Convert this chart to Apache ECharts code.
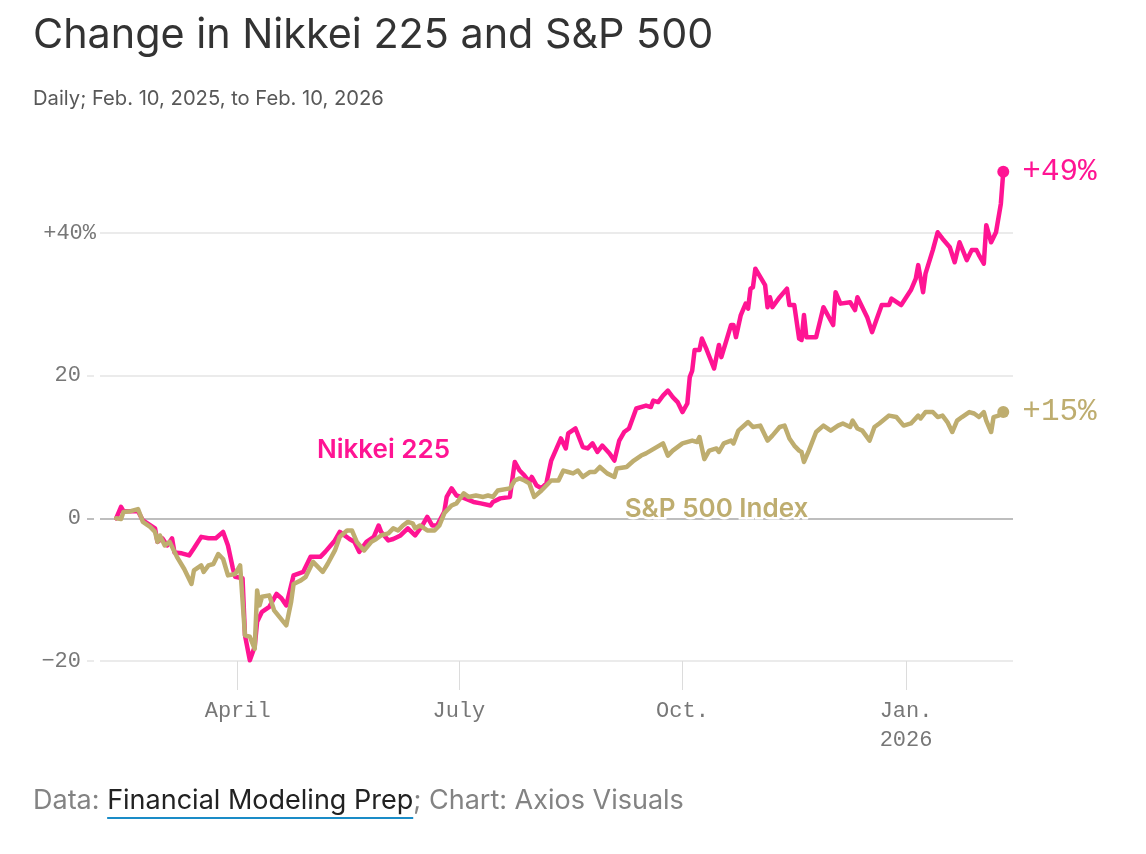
<!DOCTYPE html>
<html><head><meta charset="utf-8">
<script src="https://cdn.jsdelivr.net/npm/echarts@6/dist/echarts.min.js"></script>
<style>html,body{margin:0;padding:0;background:#fff}#c{width:1146px;height:854px}</style>
</head><body><div id="c"></div>
<script>
const nikkeiDates = ['2025-02-10','2025-02-12','2025-02-13','2025-02-19','2025-02-21','2025-02-26','2025-02-27','2025-03-01','2025-03-03','2025-03-05','2025-03-06','2025-03-09','2025-03-12','2025-03-14','2025-03-17','2025-03-20','2025-03-23','2025-03-26','2025-03-28','2025-03-30','2025-03-31','2025-04-03','2025-04-04','2025-04-06','2025-04-08','2025-04-09','2025-04-11','2025-04-14','2025-04-17','2025-04-19','2025-04-21','2025-04-24','2025-04-28','2025-05-01','2025-05-05','2025-05-07','2025-05-11','2025-05-13','2025-05-17','2025-05-19','2025-05-21','2025-05-24','2025-05-27','2025-05-29','2025-05-30','2025-06-02','2025-06-04','2025-06-07','2025-06-10','2025-06-13','2025-06-16','2025-06-18','2025-06-20','2025-06-22','2025-06-25','2025-06-26','2025-06-28','2025-06-30','2025-07-02','2025-07-07','2025-07-10','2025-07-14','2025-07-15','2025-07-18','2025-07-22','2025-07-24','2025-07-26','2025-07-28','2025-07-30','2025-07-31','2025-08-02','2025-08-04','2025-08-06','2025-08-08','2025-08-12','2025-08-14','2025-08-15','2025-08-18','2025-08-21','2025-08-23','2025-08-25','2025-08-27','2025-08-29','2025-09-01','2025-09-03','2025-09-05','2025-09-07','2025-09-09','2025-09-12','2025-09-16','2025-09-18','2025-09-19','2025-09-21','2025-09-23','2025-09-25','2025-09-27','2025-09-29','2025-10-01','2025-10-03','2025-10-04','2025-10-05','2025-10-06','2025-10-08','2025-10-09','2025-10-11','2025-10-14','2025-10-16','2025-10-17','2025-10-21','2025-10-22','2025-10-23','2025-10-25','2025-10-27','2025-10-28','2025-10-29','2025-10-30','2025-10-31','2025-11-04','2025-11-05','2025-11-06','2025-11-07','2025-11-10','2025-11-13','2025-11-14','2025-11-16','2025-11-18','2025-11-19','2025-11-20','2025-11-21','2025-11-25','2025-11-27','2025-11-28','2025-12-02','2025-12-03','2025-12-05','2025-12-09','2025-12-11','2025-12-12','2025-12-14','2025-12-16','2025-12-18','2025-12-20','2025-12-22','2025-12-25','2025-12-26','2025-12-30','2026-01-03','2026-01-05','2026-01-06','2026-01-08','2026-01-09','2026-01-12','2026-01-14','2026-01-16','2026-01-19','2026-01-21','2026-01-23','2026-01-26','2026-01-28','2026-01-30','2026-01-31','2026-02-02','2026-02-03','2026-02-05','2026-02-07','2026-02-09','2026-02-10'];
const nikkeiValues = [0,1.6,1.0,1.0,-0.3,-1.4,-3.3,-2.8,-3.8,-2.8,-4.8,-4.9,-5.2,-4.2,-2.6,-2.8,-2.8,-1.9,-3.8,-7.0,-8.2,-8.4,-16.4,-19.9,-18.0,-14.5,-13.1,-12.4,-10.6,-11.2,-12.2,-8.0,-7.5,-5.4,-5.4,-4.7,-3.1,-1.9,-2.9,-3.3,-4.7,-3.3,-2.6,-1.0,-1.9,-3.1,-2.9,-2.4,-1.4,-2.4,-1.0,0.2,-1.0,-1.0,0.9,3.0,4.2,3.2,3.0,2.3,2.1,1.8,2.3,2.8,3.0,7.9,6.7,6.0,5.1,5.8,4.6,4.2,4.9,8.1,11.2,9.8,11.9,12.6,10.0,9.8,10.5,9.3,10.2,9.1,8.1,10.9,12.1,12.6,15.4,15.8,15.6,16.5,16.3,17.2,17.9,17.0,16.3,14.9,16.1,19.8,20.7,23.6,23.6,25.2,23.6,21.0,24.3,22.6,27.1,27.1,25.4,28.5,30.1,29.4,32.2,32.4,35.0,32.7,29.6,31.0,29.6,31.0,32.2,29.9,29.9,25.2,25.0,28.5,25.4,25.4,28.2,29.6,27.1,31.7,30.1,30.3,29.2,31.0,29.6,28.2,26.1,28.0,29.9,29.9,30.8,29.9,32.0,33.6,35.5,31.7,34.3,37.6,40.1,39.2,38.0,35.9,38.7,36.2,37.6,37.6,36.9,35.7,41.1,38.7,40.1,44.1,48.6];

const spDates = ['2025-02-10','2025-02-12','2025-02-13','2025-02-16','2025-02-19','2025-02-21','2025-02-24','2025-02-26','2025-02-27','2025-02-28','2025-03-02','2025-03-04','2025-03-06','2025-03-07','2025-03-10','2025-03-13','2025-03-14','2025-03-17','2025-03-18','2025-03-20','2025-03-22','2025-03-24','2025-03-26','2025-03-28','2025-03-31','2025-04-02','2025-04-04','2025-04-06','2025-04-08','2025-04-09','2025-04-10','2025-04-11','2025-04-14','2025-04-16','2025-04-21','2025-04-23','2025-04-24','2025-04-27','2025-04-29','2025-05-02','2025-05-04','2025-05-06','2025-05-08','2025-05-11','2025-05-13','2025-05-16','2025-05-18','2025-05-20','2025-05-23','2025-05-26','2025-05-28','2025-05-30','2025-06-02','2025-06-04','2025-06-06','2025-06-08','2025-06-10','2025-06-12','2025-06-13','2025-06-15','2025-06-18','2025-06-21','2025-06-23','2025-06-25','2025-06-28','2025-06-30','2025-07-03','2025-07-05','2025-07-08','2025-07-11','2025-07-13','2025-07-15','2025-07-17','2025-07-22','2025-07-24','2025-07-26','2025-07-28','2025-07-30','2025-08-01','2025-08-04','2025-08-06','2025-08-08','2025-08-11','2025-08-13','2025-08-15','2025-08-17','2025-08-19','2025-08-21','2025-08-24','2025-08-26','2025-08-28','2025-08-31','2025-09-03','2025-09-04','2025-09-08','2025-09-11','2025-09-14','2025-09-16','2025-09-23','2025-09-25','2025-09-27','2025-10-01','2025-10-05','2025-10-07','2025-10-08','2025-10-10','2025-10-12','2025-10-15','2025-10-16','2025-10-18','2025-10-21','2025-10-22','2025-10-24','2025-10-28','2025-10-30','2025-11-02','2025-11-03','2025-11-05','2025-11-07','2025-11-10','2025-11-12','2025-11-14','2025-11-16','2025-11-18','2025-11-19','2025-11-20','2025-11-22','2025-11-25','2025-11-28','2025-12-01','2025-12-04','2025-12-06','2025-12-09','2025-12-10','2025-12-12','2025-12-14','2025-12-17','2025-12-19','2025-12-21','2025-12-25','2025-12-28','2025-12-31','2026-01-03','2026-01-06','2026-01-07','2026-01-09','2026-01-12','2026-01-14','2026-01-16','2026-01-18','2026-01-20','2026-01-22','2026-01-24','2026-01-27','2026-01-29','2026-01-31','2026-02-02','2026-02-03','2026-02-05','2026-02-06','2026-02-08','2026-02-10'];
const spValues = [0,-0.1,0.9,1.0,1.3,-0.5,-1.2,-1.9,-3.3,-2.4,-3.8,-3.3,-4.7,-5.4,-7.1,-9.2,-7.3,-6.6,-7.5,-6.6,-6.4,-5.0,-5.7,-8.0,-7.8,-6.6,-16.4,-16.6,-18.3,-10.1,-12.2,-11.0,-10.8,-12.9,-15.0,-11.7,-9.2,-8.7,-8.2,-6.1,-6.8,-7.5,-6.4,-4.5,-2.6,-1.7,-1.7,-3.3,-4.5,-3.3,-2.9,-2.4,-2.1,-1.4,-1.7,-1.0,-0.5,-0.7,-1.4,-1.0,-1.7,-1.7,-1.0,0.7,1.8,2.1,3.5,3.0,3.2,3.0,3.2,3.0,3.9,4.2,5.3,5.6,5.3,4.9,3.0,3.9,4.6,5.3,5.3,6.7,6.5,6.3,6.7,5.8,6.5,6.5,7.2,6.3,5.8,7.0,7.2,8.1,8.8,9.1,10.5,8.8,9.5,10.5,10.9,10.7,11.4,8.3,9.5,9.8,9.3,10.5,10.9,10.5,12.3,13.5,12.8,13.0,12.3,10.9,11.6,12.8,13.0,11.2,10.2,9.5,9.3,7.9,9.5,12.1,13.0,12.3,13.0,13.3,12.8,13.7,12.6,12.3,10.9,12.8,13.3,14.4,14.2,13.0,13.3,14.4,14.0,14.9,14.9,14.2,14.4,13.5,12.1,13.7,14.2,14.9,14.7,14.2,14.9,13.7,12.1,14.2,14.4,14.9];

const seriesNames = ['Nikkei 225', 'S&P 500 Index'];
const xTickDates = ['2025-04-01','2025-07-01','2025-10-01','2026-01-01'];
const xTickLabels = ['April','July','Oct.','Jan.\n2026'];
const yMin = -20, yMax = 40, yStep = 20;
const xStart = '2025-01-29', xEnd = '2026-02-14';

const PINK = '#ff1493', TAN = '#bead6f';
const toTs = s => { const p = s.split('-').map(Number); return Date.UTC(p[0], p[1]-1, p[2]); };
const pairs = (d, v) => d.map((s, i) => [toTs(s), v[i]]);
const nikkeiData = pairs(nikkeiDates, nikkeiValues);
const spData = pairs(spDates, spValues);
const xTickTs = xTickDates.map(toTs);
const MONO = '"Liberation Mono", "DejaVu Sans Mono", monospace';
const SANS = 'Inter, Roboto, "Noto Sans", sans-serif';

const FOOT = 27;
const ctx = document.createElement('canvas').getContext('2d');
ctx.font = FOOT + 'px Inter';
const wData = ctx.measureText('Data: ').width;
const wLink = ctx.measureText('Financial Modeling Prep').width;

const endDot = n => (v, p) => p.dataIndex === n - 1 ? 12 : 0;
const chart = echarts.init(document.getElementById('c'), null, {renderer: 'canvas'});
chart.setOption({
  animation: false,
  backgroundColor: '#fff',
  title: [
    {text: 'Change in Nikkei 225 and S&P 500', left: 33, top: 15, padding: 0,
     textStyle: {fontFamily: SANS, fontSize: 41.3, fontWeight: 400, color: '#333'}},
    {text: 'Daily; Feb. 10, 2025, to Feb. 10, 2026', left: 33, top: 89, padding: 0,
     textStyle: {fontFamily: SANS, fontSize: 20.2, fontWeight: 400, color: '#585858'}}
  ],
  grid: {left: 87, right: 133, top: 233, bottom: 193},
  xAxis: {
    type: 'value', min: toTs(xStart), max: toTs(xEnd),
    axisLine: {show: false, onZero: false}, splitLine: {show: false},
    axisTick: {show: true, customValues: xTickTs, length: 29, lineStyle: {color: '#dcdcdc', width: 1}},
    axisLabel: {customValues: xTickTs, margin: 36, lineHeight: 29, fontFamily: MONO, fontSize: 22, color: '#777',
      formatter: v => { const i = xTickTs.indexOf(v); return i >= 0 ? xTickLabels[i] : ''; }}
  },
  yAxis: [
    {type: 'value', min: yMin, max: yMax, interval: yStep,
     axisLine: {show: false}, axisTick: {show: false},
     splitLine: {show: true, lineStyle: {color: ['#e4e4e4', '#a9a9a9', '#e4e4e4', '#e4e4e4'], width: 1.5}},
     axisLabel: {margin: 6, fontFamily: MONO, fontSize: 22, color: '#777',
       formatter: v => v === yMax ? '' : (v < 0 ? '\u2212' + Math.abs(v) : String(v))}},
    {type: 'value', min: yMin, max: yMax, interval: yStep, position: 'left',
     axisLine: {show: false}, axisTick: {show: false}, splitLine: {show: false},
     axisLabel: {margin: -13, fontFamily: MONO, fontSize: 22, color: '#777', backgroundColor: '#fff', padding: [2, 4, 2, 2],
       formatter: v => v === yMax ? '+' + v + '%' : ''}}
  ],
  series: [
    {name: seriesNames[0], type: 'line', data: nikkeiData, clip: false,
     symbol: 'circle', showSymbol: true, showAllSymbol: true, symbolSize: endDot(nikkeiData.length),
     lineStyle: {color: PINK, width: 4.5, join: 'round', cap: 'round'}, itemStyle: {color: PINK},
     endLabel: {show: true, distance: 19, color: PINK, fontFamily: MONO, fontSize: 31,
       formatter: p => '+' + Math.round(p.value[1]) + '%'},
     markPoint: {silent: true, data: [
       {coord: [toTs('2025-05-31'), 9.5], symbol: 'circle', symbolSize: 0,
        label: {show: true, position: 'inside', formatter: seriesNames[0], color: PINK, fontFamily: SANS, fontSize: 26, fontWeight: 600,
          textBorderColor: '#fff', textBorderWidth: 4}}
     ]}},
    {name: seriesNames[1], type: 'line', data: spData, clip: false,
     symbol: 'circle', showSymbol: true, showAllSymbol: true, symbolSize: endDot(spData.length),
     lineStyle: {color: TAN, width: 4.5, join: 'round', cap: 'round'}, itemStyle: {color: TAN},
     endLabel: {show: true, distance: 19, color: TAN, fontFamily: MONO, fontSize: 31,
       formatter: p => '+' + Math.round(p.value[1]) + '%'},
     markPoint: {silent: true, data: [
       {coord: [toTs('2025-10-15'), 1.3], symbol: 'circle', symbolSize: 0,
        label: {show: true, position: 'inside', formatter: seriesNames[1], color: TAN, fontFamily: SANS, fontSize: 26, fontWeight: 600,
          textBorderColor: '#fff', textBorderWidth: 5}}
     ]}}
  ],
  graphic: [
    {type: 'text', left: 33, top: 787, style: {
      text: '{g|Data: }{l|Financial Modeling Prep}{g|; Chart: Axios Visuals}',
      rich: {g: {fill: '#838383', fontSize: FOOT, fontFamily: 'Inter'}, l: {fill: '#222', fontSize: FOOT, fontFamily: 'Inter'}}}},
    {type: 'rect', shape: {x: 33 + wData, y: 817, width: wLink, height: 2}, style: {fill: '#1a8cc7'}}
  ]
});
</script></body></html>
